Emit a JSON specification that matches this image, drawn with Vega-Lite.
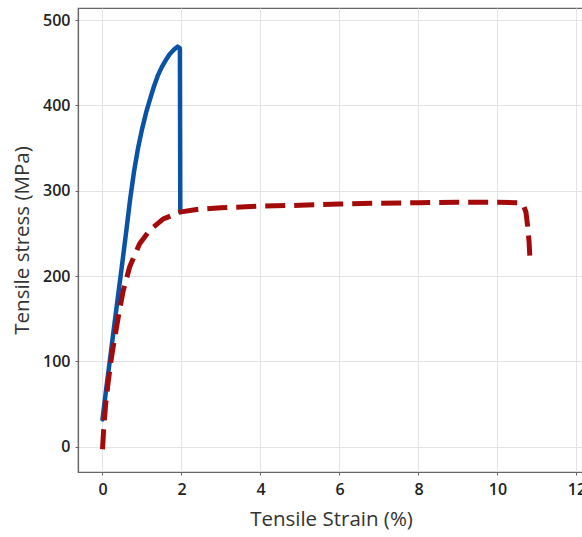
{
  "$schema": "https://vega.github.io/schema/vega-lite/v6.json",
  "autosize": "none",
  "width": 506,
  "height": 464,
  "padding": {"left": 78, "top": 8, "right": 0, "bottom": 65},
  "background": "white",
  "config": {
    "view": {"stroke": "#666", "strokeWidth": 1.2},
    "font": "Open Sans",
    "axis": {
      "labelFont": "Open Sans", "titleFont": "Open Sans",
      "labelFontSize": 16, "titleFontSize": 20.5, "titleFontWeight": "normal",
      "labelFontWeight": 600,
      "labelColor": "#222", "titleColor": "#333",
      "gridColor": "#e3e3e3", "gridWidth": 1,
      "domainColor": "#666", "domainWidth": 1.2,
      "tickColor": "#666", "tickSize": 3
    }
  },
  "datasets": {
    "blue": [
      {"i": 1, "strain": 0.0, "stress": 32},
      {"i": 2, "strain": 0.1, "stress": 70},
      {"i": 3, "strain": 0.2, "stress": 106},
      {"i": 4, "strain": 0.3, "stress": 143},
      {"i": 5, "strain": 0.4, "stress": 179},
      {"i": 6, "strain": 0.5, "stress": 215},
      {"i": 7, "strain": 0.6, "stress": 252},
      {"i": 8, "strain": 0.7, "stress": 290},
      {"i": 9, "strain": 0.8, "stress": 323},
      {"i": 10, "strain": 0.9, "stress": 350},
      {"i": 11, "strain": 1.0, "stress": 372},
      {"i": 12, "strain": 1.1, "stress": 391},
      {"i": 13, "strain": 1.2, "stress": 407},
      {"i": 14, "strain": 1.3, "stress": 422},
      {"i": 15, "strain": 1.4, "stress": 435},
      {"i": 16, "strain": 1.5, "stress": 445},
      {"i": 17, "strain": 1.6, "stress": 453},
      {"i": 18, "strain": 1.7, "stress": 460},
      {"i": 19, "strain": 1.8, "stress": 465},
      {"i": 20, "strain": 1.9, "stress": 469},
      {"i": 21, "strain": 1.96, "stress": 467},
      {"i": 22, "strain": 1.97, "stress": 275}
    ],
    "red": [
      {"i": 1, "strain": 0.0, "stress": -3},
      {"i": 2, "strain": 0.03, "stress": 20},
      {"i": 3, "strain": 0.08, "stress": 50},
      {"i": 4, "strain": 0.14, "stress": 74},
      {"i": 5, "strain": 0.2, "stress": 96},
      {"i": 6, "strain": 0.27, "stress": 117},
      {"i": 7, "strain": 0.4, "stress": 152},
      {"i": 8, "strain": 0.52, "stress": 182},
      {"i": 9, "strain": 0.69, "stress": 211},
      {"i": 10, "strain": 0.94, "stress": 238},
      {"i": 11, "strain": 1.2, "stress": 254},
      {"i": 12, "strain": 1.54, "stress": 267},
      {"i": 13, "strain": 1.96, "stress": 275},
      {"i": 14, "strain": 2.38, "stress": 278},
      {"i": 15, "strain": 3, "stress": 280},
      {"i": 16, "strain": 4, "stress": 282},
      {"i": 17, "strain": 5, "stress": 283},
      {"i": 18, "strain": 6, "stress": 284.5},
      {"i": 19, "strain": 7, "stress": 285.5},
      {"i": 20, "strain": 8, "stress": 286},
      {"i": 21, "strain": 9, "stress": 286.5},
      {"i": 22, "strain": 10, "stress": 286.5},
      {"i": 23, "strain": 10.5, "stress": 286},
      {"i": 24, "strain": 10.65, "stress": 284},
      {"i": 25, "strain": 10.72, "stress": 275},
      {"i": 26, "strain": 10.76, "stress": 260},
      {"i": 27, "strain": 10.8, "stress": 240},
      {"i": 28, "strain": 10.82, "stress": 222}
    ]
  },
  "encoding": {
    "x": {
      "field": "strain", "type": "quantitative",
      "scale": {"domain": [-0.62, 12.19], "nice": false, "zero": false},
      "axis": {"values": [0, 2, 4, 6, 8, 10, 12], "title": "Tensile Strain (%)", "titlePadding": 12, "labelPadding": 6}
    },
    "y": {
      "field": "stress", "type": "quantitative",
      "scale": {"domain": [-29.7, 514.3], "nice": false, "zero": false},
      "axis": {"values": [0, 100, 200, 300, 400, 500], "title": "Tensile stress (MPa)", "titlePadding": 10, "labelPadding": 5}
    },
    "order": {"field": "i", "type": "quantitative"}
  },
  "layer": [
    {
      "data": {"name": "blue"},
      "mark": {"type": "line", "color": "#0a52a6", "strokeWidth": 4.5, "strokeCap": "round", "strokeJoin": "round"}
    },
    {
      "data": {"name": "red"},
      "mark": {"type": "line", "color": "#a30b0b", "strokeWidth": 5, "strokeDash": [20, 9], "strokeCap": "butt"}
    }
  ]
}
